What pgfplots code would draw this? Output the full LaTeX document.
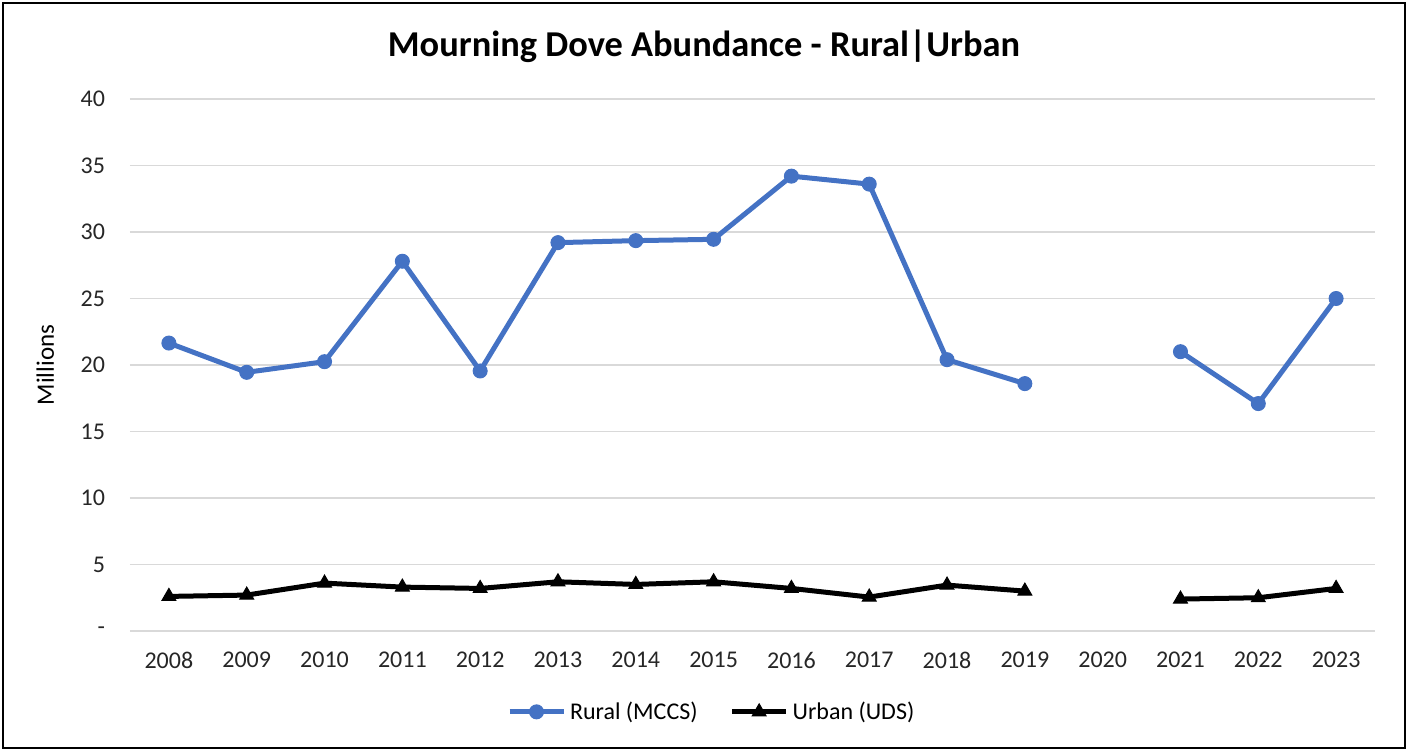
\documentclass[border=0pt]{standalone}
\usepackage{pgfplots}
\pgfplotsset{compat=1.18}
\usepackage{fontspec}
\setmainfont{Carlito}
\definecolor{ruralblue}{HTML}{4472C4}
\definecolor{gridgray}{HTML}{D9D9D9}
\begin{document}
\begin{tikzpicture}
\useasboundingbox (0,0) rectangle (704pt,374.5pt);
\draw[line width=1pt] (1.5pt,0.5pt) rectangle (702.5pt,373pt);
\node[font=\fontsize{18.2}{21}\selectfont\bfseries] at (352pt,351.5pt) {Mourning Dove Abundance - Rural|Urban};
\begin{axis}[
  at={(65pt,59pt)}, anchor=south west,
  scale only axis, width=622.5pt, height=266pt,
  xmin=-0.5, xmax=15.5, ymin=0, ymax=40,
  xtick={0,...,15},
  xticklabels={2008,2009,2010,2011,2012,2013,2014,2015,2016,2017,2018,2019,2020,2021,2022,2023},
  ytick={0,5,...,40},
  yticklabels={-,5,10,15,20,25,30,35,40},
  ymajorgrids, grid style={gridgray, line width=0.6pt},
  axis line style={draw=none},
  major tick length=0,
  tick label style={font=\fontsize{12}{14}\selectfont, text=black!85},
  xticklabel style={yshift=-7pt},
  yticklabel style={xshift=-9pt},
  ylabel={Millions},
  ylabel style={at={(axis description cs:-0.068,0.5)}, anchor=center, font=\fontsize{12.5}{14}\selectfont, rotate=0},
  unbounded coords=jump,
  legend columns=2,
  legend style={at={(0.468,-0.152)}, anchor=center, draw=none, font=\fontsize{12}{14}\selectfont,
    /tikz/every even column/.append style={column sep=14pt}},
  legend image code/.code={\draw[#1] (0pt,0pt) -- (27pt,0pt); \draw[#1, mark repeat=1] plot coordinates {(13.5pt,0pt)};},
]
\addplot[ruralblue, line width=2.5pt, mark=*, mark size=3.5pt, mark options={solid, line width=0.5pt}] coordinates {
(0,21.65) (1,19.45) (2,20.25) (3,27.8) (4,19.55) (5,29.2) (6,29.35) (7,29.45) (8,34.2) (9,33.6) (10,20.4) (11,18.6) (12,nan) (13,21.0) (14,17.1) (15,25.0)};
\addlegendentry{Rural (MCCS)}
\addplot[black, line width=2.5pt, mark=triangle*, mark size=4pt, mark options={solid, line width=0.5pt}] coordinates {
(0,2.6) (1,2.7) (2,3.6) (3,3.3) (4,3.2) (5,3.7) (6,3.5) (7,3.7) (8,3.2) (9,2.55) (10,3.45) (11,3.0) (12,nan) (13,2.4) (14,2.5) (15,3.2)};
\addlegendentry{Urban (UDS)}
\end{axis}
\end{tikzpicture}
\end{document}
